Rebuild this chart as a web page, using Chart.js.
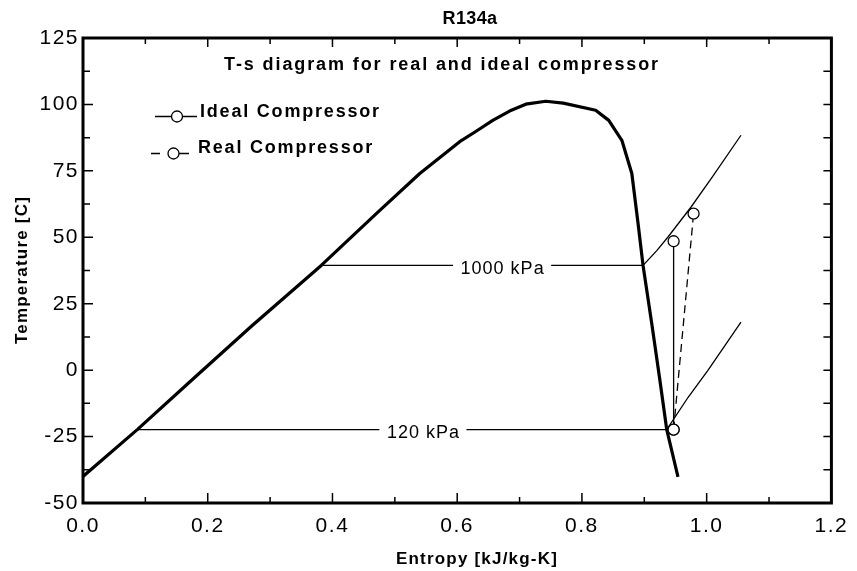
<!DOCTYPE html>
<html>
<head>
<meta charset="utf-8">
<script src="https://cdn.jsdelivr.net/npm/chart.js@4.4.1/dist/chart.umd.min.js"></script>
<style>
html, body { margin:0; padding:0; background:#fff; }
</style>
</head>
<body>
<canvas id="chart_ts" width="857" height="571"></canvas>
<script>
//飽和線 (エントロピー, 温度)
const domeS = [0.000, 0.087, 0.175, 0.270, 0.382, 0.472, 0.540, 0.604, 0.631, 0.657, 0.684, 0.710, 0.742, 0.770, 0.822, 0.843, 0.864, 0.880, 0.890, 0.898, 0.912, 0.925, 0.936, 0.954];
const domeT = [-40.0, -22.4, -3.6, 16.5, 39.4, 59.3, 74.0, 86.0, 90.0, 94.0, 97.5, 100.1, 101.2, 100.5, 97.8, 94.0, 86.5, 74.0, 55.2, 39.4, 17.5, -3.8, -22.4, -40.2];

//等圧線 1000 kPa
const hiS = [0.382, 0.898, 0.920, 0.938, 0.975, 1.010, 1.055];
const hiT = [39.4, 39.4, 45.0, 50.1, 61.4, 73.0, 88.4];
//等圧線 120 kPa
const loS = [0.087, 0.936, 0.970, 1.002, 1.055];
const loT = [-22.4, -22.4, -10.3, -0.1, 18.1];

//圧縮機
const idealS = [0.947, 0.947];
const idealT = [-22.4, 48.5];
const realS = [0.947, 0.979];
const realT = [-22.4, 58.9];

//ラベル
const isoLabels = ['1000 kPa', '120 kPa'];
const isoLabelS = [0.672, 0.545];
const isoLabelT = [39.4, -22.4];

const xTicks = [0.0, 0.2, 0.4, 0.6, 0.8, 1.0, 1.2];
const yTicks = [-50, -25, 0, 25, 50, 75, 100, 125];

const FONT = "'Liberation Sans', Arial, sans-serif";

function pts(xs, ys) {
    var out = [];
    for (var i = 0; i < xs.length; i++) {
        out.push({x: xs[i], y: ys[i]});
    }
    return out;
}

//文字描画 (letterSpacing付き)
function txt(ctx, s, x, y, font, spacing, align) {
    ctx.save();
    ctx.font = font;
    ctx.letterSpacing = spacing + 'px';
    ctx.fillStyle = '#000';
    ctx.textAlign = align || 'left';
    ctx.textBaseline = 'middle';
    ctx.fillText(s, x, y);
    ctx.restore();
}

function circle(ctx, x, y) {
    ctx.beginPath();
    ctx.arc(x, y, 5.5, 0, Math.PI * 2);
    ctx.fillStyle = '#fff';
    ctx.fill();
    ctx.lineWidth = 1.3;
    ctx.strokeStyle = '#000';
    ctx.stroke();
}

const decor = {
    id: 'decor',
    beforeDraw(chart) {
        chart.ctx.letterSpacing = '1.5px';
    },
    afterDatasetsDraw(chart) {
        const ctx = chart.ctx;
        const xs = chart.scales.x, ys = chart.scales.y;
        //等圧線ラベル
        for (var i = 0; i < isoLabels.length; i++) {
            var px = xs.getPixelForValue(isoLabelS[i]);
            var py = ys.getPixelForValue(isoLabelT[i]);
            ctx.save();
            ctx.font = '18px ' + FONT;
            ctx.letterSpacing = '1px';
            var w = ctx.measureText(isoLabels[i]).width + 14;
            ctx.fillStyle = '#fff';
            ctx.fillRect(px - w / 2, py - 5, w, 10);
            ctx.restore();
            txt(ctx, isoLabels[i], px + 0.5, py + 3.5, '18px ' + FONT, 1, 'center');
        }
    },
    afterDraw(chart) {
        const ctx = chart.ctx;
        const a = chart.chartArea;
        const xs = chart.scales.x, ys = chart.scales.y;
        ctx.save();
        ctx.strokeStyle = '#000';
        //目盛り (内向き)
        ctx.lineWidth = 1.5;
        ctx.beginPath();
        for (var v = 0; v <= 12; v++) {
            var px = xs.getPixelForValue(v / 10);
            var major = v % 2 == 0;
            ctx.moveTo(px, a.bottom); ctx.lineTo(px, a.bottom - (major ? 10 : 6));
            ctx.moveTo(px, a.top); ctx.lineTo(px, a.top + (major ? 9 : 6));
        }
        for (var k = 0; k <= 14; k++) {
            var py = ys.getPixelForValue(-50 + k * 12.5);
            var major = k % 2 == 0;
            ctx.moveTo(a.left, py); ctx.lineTo(a.left + (major ? 10 : 7), py);
            ctx.moveTo(a.right, py); ctx.lineTo(a.right - 8, py);
        }
        ctx.stroke();
        //枠
        ctx.lineWidth = 3;
        ctx.strokeRect(a.left, a.top, a.right - a.left, a.bottom - a.top);
        ctx.restore();

        //タイトル
        txt(ctx, 'R134a', 470, 19.5, 'bold 18px ' + FONT, 0.4, 'center');
        txt(ctx, 'T-s diagram for real and ideal compressor', 224, 65.5, 'bold 18px ' + FONT, 1.9, 'left');
        txt(ctx, 'Entropy [kJ/kg-K]', 477, 559, 'bold 17px ' + FONT, 1.2, 'center');
        ctx.save();
        ctx.translate(22, 270);
        ctx.rotate(-Math.PI / 2);
        txt(ctx, 'Temperature [C]', 0, 0, 'bold 17px ' + FONT, 1.2, 'center');
        ctx.restore();

        //凡例
        ctx.save();
        ctx.strokeStyle = '#000';
        ctx.lineWidth = 1.3;
        ctx.beginPath();
        ctx.moveTo(155, 116.5); ctx.lineTo(197, 116.5);
        ctx.moveTo(151, 153.5); ctx.lineTo(160, 153.5);
        ctx.moveTo(179, 153.5); ctx.lineTo(189, 153.5);
        ctx.stroke();
        circle(ctx, 177, 116.5);
        circle(ctx, 173.5, 153.5);
        ctx.restore();
        txt(ctx, 'Ideal Compressor', 200, 112.5, 'bold 18px ' + FONT, 1.8, 'left');
        txt(ctx, 'Real Compressor', 198, 148, 'bold 18px ' + FONT, 1.8, 'left');
    }
};

var chartArea = document.getElementById('chart_ts');
var myChart = new Chart(chartArea, {
    type: 'scatter',
    data: {
        datasets: [
            {
                label: 'Ideal Compressor',
                data: pts(idealS, idealT),
                showLine: true,
                borderColor: '#000',
                borderWidth: 1.3,
                pointRadius: 5.5,
                pointBackgroundColor: '#fff',
                pointBorderColor: '#000',
                pointBorderWidth: 1.3
            },
            {
                label: 'Real Compressor',
                data: pts(realS, realT),
                showLine: true,
                borderColor: '#000',
                borderWidth: 1.3,
                borderDash: [8, 5],
                pointRadius: 5.5,
                pointBackgroundColor: '#fff',
                pointBorderColor: '#000',
                pointBorderWidth: 1.3
            },
            {
                label: 'dome',
                data: pts(domeS, domeT),
                showLine: true,
                borderColor: '#000',
                borderWidth: 3.2,
                pointRadius: 0,
                borderJoinStyle: 'round'
            },
            {
                label: '1000 kPa',
                data: pts(hiS, hiT),
                showLine: true,
                borderColor: '#000',
                borderWidth: 1.3,
                pointRadius: 0
            },
            {
                label: '120 kPa',
                data: pts(loS, loT),
                showLine: true,
                borderColor: '#000',
                borderWidth: 1.3,
                pointRadius: 0
            }
        ]
    },
    options: {
        responsive: false,
        animation: false,
        devicePixelRatio: 1,
        layout: { padding: { top: 38, right: 20, left: 0, bottom: 0 } },
        plugins: { legend: { display: false }, tooltip: { enabled: false } },
        scales: {
            x: {
                type: 'linear',
                min: 0, max: 1.2,
                grid: { display: false, drawTicks: false },
                border: { display: false },
                afterBuildTicks: function(s) { s.ticks = xTicks.map(function(v) { return {value: v}; }); },
                ticks: {
                    padding: 11,
                    color: '#000',
                    font: { family: FONT, size: 21 },
                    maxRotation: 0,
                    callback: function(v) { return v.toFixed(1); }
                },
                afterFit: function(s) { s.height = 68; }
            },
            y: {
                type: 'linear',
                min: -50, max: 125,
                grid: { display: false, drawTicks: false },
                border: { display: false },
                afterBuildTicks: function(s) { s.ticks = yTicks.map(function(v) { return {value: v}; }); },
                ticks: {
                    padding: 4,
                    color: '#000',
                    font: { family: FONT, size: 21 }
                },
                afterFit: function(s) { s.width = 83; }
            }
        }
    },
    plugins: [decor]
});
</script>
</body>
</html>
